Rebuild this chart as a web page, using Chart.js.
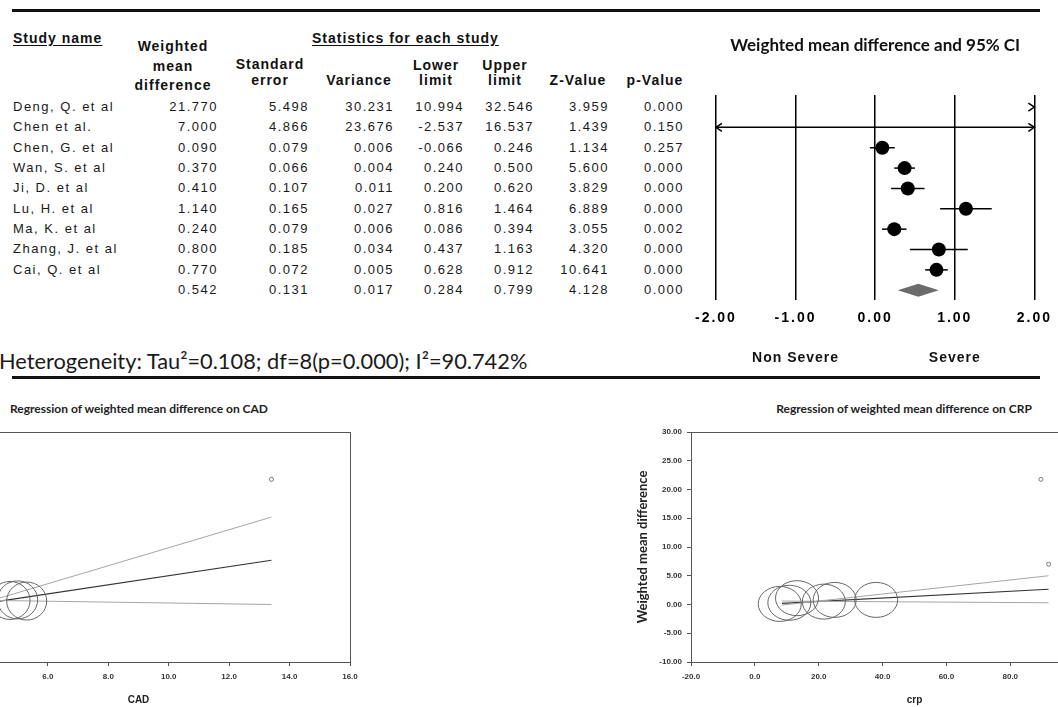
<!DOCTYPE html>
<html>
<head>
<meta charset="utf-8">
<script src="https://cdn.jsdelivr.net/npm/chart.js@4.4.1/dist/chart.umd.min.js"></script>
<style>
  html, body { margin: 0; padding: 0; background: #fff; overflow: hidden; }
  body { width: 1058px; height: 707px; position: relative; font-family: "Liberation Sans", Arial, sans-serif; color: #111; }
  .abs { position: absolute; white-space: nowrap; }
  .cell { font-size: 13px; letter-spacing: 1.5px; line-height: 16px; color: #1a1a1a; }
  .hd { font-size: 14px; font-weight: bold; letter-spacing: 1px; line-height: 16px; }
  .u { text-decoration: underline; text-underline-offset: 2px; }
  .het { font-family: Lato, sans-serif; font-size: 21.8px; color: #1a1a1a; }
  .rtitle { font-family: Lato, sans-serif; font-size: 12px; font-weight: bold; color: #222; }
  .rule { position: absolute; left: 12px; width: 1028px; height: 3px; background: #111; }
  canvas { position: absolute; }
</style>
</head>
<body>
<div class="rule" style="top:9px"></div>
<div class="rule" style="top:376px"></div>
<div id="table"></div>
<canvas id="forest" width="368" height="380" style="left:690px;top:0px"></canvas>
<canvas id="cad" width="503" height="287" style="left:-133px;top:420px"></canvas>
<canvas id="crp" width="527" height="287" style="left:631px;top:420px"></canvas>
<script>
// ---- forest plot table ----
const studies = ['Deng, Q. et al', 'Chen et al.', 'Chen, G. et al', 'Wan, S. et al', 'Ji, D. et al',
  'Lu, H. et al', 'Ma, K. et al', 'Zhang, J. et al', 'Cai, Q. et al'];
// last entry of each column = pooled estimate
const wmd = [21.770, 7.000, 0.090, 0.370, 0.410, 1.140, 0.240, 0.800, 0.770, 0.542];
const stdErr = [5.498, 4.866, 0.079, 0.066, 0.107, 0.165, 0.079, 0.185, 0.072, 0.131];
const variance = [30.231, 23.676, 0.006, 0.004, 0.011, 0.027, 0.006, 0.034, 0.005, 0.017];
const lowerLimit = [10.994, -2.537, -0.066, 0.240, 0.200, 0.816, 0.086, 0.437, 0.628, 0.284];
const upperLimit = [32.546, 16.537, 0.246, 0.500, 0.620, 1.464, 0.394, 1.163, 0.912, 0.799];
const zValue = [3.959, 1.439, 1.134, 5.600, 3.829, 6.889, 3.055, 4.320, 10.641, 4.128];
const pValue = [0.000, 0.150, 0.257, 0.000, 0.000, 0.000, 0.002, 0.000, 0.000, 0.000];
const forestTicks = [-2, -1, 0, 1, 2];

// ---- regression of WMD on CAD ----
const cadBubbleX = [4.75, 5.0, 5.3];
const cadBubbleY = [0.7, 0.8, 0.6];
const cadPointX = [13.4];
const cadPointY = [21.77];
const cadLineX = [4.3, 13.4];
const cadUpper = [0.95, 15.2];
const cadFit = [0.5, 7.7];
const cadLower = [0.7, 0.0];
const cadTicks = [2, 4, 6, 8, 10, 12, 14, 16];

// ---- regression of WMD on CRP ----
const crpBubbleX = [7.8, 10.8, 13.2, 21.6, 25.0, 38.0];
const crpBubbleY = [0.1, 0.3, 1.1, 0.5, 0.8, 0.8];
const crpPointX = [89.6, 92.0];
const crpPointY = [21.77, 7.0];
const crpLineX = [8.5, 92.0];
const crpUpper = [-0.1, 5.0];
const crpFit = [0.2, 2.65];
const crpLower = [0.6, 0.3];
const crpTicks = [-20, 0, 20, 40, 60, 80, 100, 120];
const wmdAxisTicks = [-10, -5, 0, 5, 10, 15, 20, 25, 30];

// ---------- table text ----------
const table = document.getElementById('table');
function put(text, x, y, cls, align) {
  const d = document.createElement('div');
  d.className = 'abs ' + cls;
  d.textContent = text;
  d.style.left = x + 'px';
  d.style.top = y + 'px';
  const tx = align === 'right' ? '-100%' : align === 'center' ? '-50%' : '0';
  d.style.transform = 'translate(' + tx + ', -50%)';
  table.appendChild(d);
}
put('Study name', 13, 38, 'hd u', 'left');
put('Statistics for each study', 312, 38, 'hd u', 'left');
put('Weighted', 173, 46, 'hd', 'center');
put('mean', 173, 66, 'hd', 'center');
put('difference', 173, 85, 'hd', 'center');
put('Standard', 270, 64, 'hd', 'center');
put('error', 270, 80, 'hd', 'center');
put('Variance', 359, 80, 'hd', 'center');
put('Lower', 436, 65, 'hd', 'center');
put('limit', 436, 80, 'hd', 'center');
put('Upper', 505, 65, 'hd', 'center');
put('limit', 505, 80, 'hd', 'center');
put('Z-Value', 578, 80, 'hd', 'center');
put('p-Value', 655, 80, 'hd', 'center');

const columns = [wmd, stdErr, variance, lowerLimit, upperLimit, zValue, pValue];
const colRight = [218, 309, 394, 464, 534, 609, 684];
for (let i = 0; i < wmd.length; i++) {
  const y = 107 + 20.35 * i;
  if (i < studies.length) put(studies[i], 13, y, 'cell', 'left');
  columns.forEach((col, j) => put(col[i].toFixed(3), colRight[j], y, 'cell', 'right'));
}
put('Heterogeneity: Tau²=0.108; df=8(p=0.000); I²=90.742%', -1, 360, 'het', 'left');
put('Regression of weighted mean difference on CAD', 10, 408, 'rtitle', 'left');
put('Regression of weighted mean difference on CRP', 904, 408, 'rtitle', 'center');

// ---------- forest plot ----------
function chevron(ctx, x, y, dir) {
  ctx.beginPath();
  ctx.moveTo(x - dir * 6, y - 4);
  ctx.lineTo(x, y);
  ctx.lineTo(x - dir * 6, y + 4);
  ctx.stroke();
}

const forestMarks = {
  id: 'forestMarks',
  beforeDatasetsDraw(chart) {
    const { ctx, scales: { x, y } } = chart;
    ctx.save();
    ctx.strokeStyle = '#000';
    ctx.lineWidth = 1.5;
    for (let i = 0; i < studies.length; i++) {
      const py = y.getPixelForValue(i);
      const lo = Math.max(lowerLimit[i], x.min);
      const hi = Math.min(upperLimit[i], x.max);
      if (lo < hi) {
        ctx.beginPath();
        ctx.moveTo(x.getPixelForValue(lo), py);
        ctx.lineTo(x.getPixelForValue(hi), py);
        ctx.stroke();
      }
      if (lowerLimit[i] < x.min) chevron(ctx, x.getPixelForValue(x.min), py, -1);
      if (upperLimit[i] > x.max) chevron(ctx, x.getPixelForValue(x.max), py, 1);
    }
    ctx.restore();
  },
  afterDatasetsDraw(chart) {
    const { ctx, scales: { x, y } } = chart;
    const k = wmd.length - 1;
    const py = y.getPixelForValue(k);
    ctx.save();
    ctx.fillStyle = '#6b6b6b';
    ctx.beginPath();
    ctx.moveTo(x.getPixelForValue(lowerLimit[k]), py);
    ctx.lineTo(x.getPixelForValue(wmd[k]), py - 6.5);
    ctx.lineTo(x.getPixelForValue(upperLimit[k]), py);
    ctx.lineTo(x.getPixelForValue(wmd[k]), py + 6.5);
    ctx.closePath();
    ctx.fill();
    ctx.restore();
    // tick labels (z: 1) are drawn after this hook, spaced like the original
    ctx.letterSpacing = '2px';
  },
  afterDraw(chart) {
    const { ctx, scales: { x } } = chart;
    ctx.letterSpacing = '0px';
    ctx.save();
    ctx.font = 'bold 14px "Liberation Sans", Arial';
    ctx.letterSpacing = '1px';
    ctx.fillStyle = '#111';
    ctx.textAlign = 'center';
    ctx.textBaseline = 'middle';
    ctx.fillText('Non Severe', x.getPixelForValue(-1), 358);
    ctx.fillText('Severe', x.getPixelForValue(1), 358);
    ctx.restore();
  }
};

new Chart(document.getElementById('forest'), {
  type: 'scatter',
  data: {
    datasets: [{
      data: studies.map((s, i) => ({ x: wmd[i], y: i })),
      pointRadius: 7,
      pointBackgroundColor: '#000',
      pointBorderColor: '#000',
      pointBorderWidth: 0
    }]
  },
  options: {
    responsive: false,
    animation: false,
    devicePixelRatio: 1,
    layout: { autoPadding: false, padding: { top: 35, left: 25, right: 18, bottom: 50 } },
    plugins: {
      legend: { display: false },
      tooltip: { enabled: false },
      title: {
        display: true,
        text: 'Weighted mean difference and 95% CI',
        fullSize: false,
        color: '#111',
        font: { family: 'Lato', size: 17, weight: 'bold' },
        padding: { top: 0, bottom: 39.6 }
      }
    },
    scales: {
      x: {
        type: 'linear',
        min: forestTicks[0],
        max: forestTicks[forestTicks.length - 1],
        afterBuildTicks: s => { s.ticks = forestTicks.map(v => ({ value: v })); },
        ticks: {
          z: 1,
          padding: 10,
          color: '#000',
          font: { family: 'Liberation Sans', size: 14, weight: 'bold' },
          callback: v => v.toFixed(2)
        },
        grid: { color: '#000', lineWidth: 1.5, drawTicks: false },
        border: { display: false },
        afterFit: s => { s.height = 30; }
      },
      y: { type: 'linear', display: false, reverse: true, min: -0.59, max: 9.48 }
    }
  },
  plugins: [forestMarks]
});

// ---------- regression plots ----------
const frame = {
  id: 'frame',
  beforeDatasetsDraw(chart) {
    const { ctx, chartArea: a } = chart;
    ctx.save();
    ctx.strokeStyle = '#555';
    ctx.lineWidth = 1;
    ctx.strokeRect(Math.round(a.left) + 0.5, Math.round(a.top) + 0.5, Math.round(a.width), Math.round(a.height));
    ctx.restore();
  }
};

// study-weight markers: open ellipses at the bubble dataset's points
// (the original plot is slightly stretched, so circles come out oval)
const weightRings = {
  id: 'weightRings',
  afterDatasetsDraw(chart, args, opts) {
    const { ctx } = chart;
    ctx.save();
    ctx.strokeStyle = '#666';
    ctx.lineWidth = 1;
    chart.getDatasetMeta(3).data.forEach(pt => {
      ctx.beginPath();
      ctx.ellipse(pt.x, pt.y, opts.rx, opts.ry, 0, 0, Math.PI * 2);
      ctx.stroke();
    });
    ctx.restore();
  }
};

function regressionChart(id, o) {
  const pts = (xs, ys) => xs.map((x, i) => ({ x, y: ys[i] }));
  const tickFont = { family: 'Liberation Sans', size: 8, weight: 'bold' };
  return new Chart(document.getElementById(id), {
    type: 'scatter',
    data: {
      datasets: [
        { data: pts(o.lineX, o.lower), showLine: true, borderColor: '#a5a5a5', borderWidth: 1, pointRadius: 0 },
        { data: pts(o.lineX, o.upper), showLine: true, borderColor: '#a5a5a5', borderWidth: 1, pointRadius: 0 },
        { data: pts(o.lineX, o.fit), showLine: true, borderColor: '#333', borderWidth: 1.2, pointRadius: 0 },
        { data: pts(o.bubbleX, o.bubbleY), pointRadius: 0 },
        { data: pts(o.pointX, o.pointY), pointRadius: 2, pointBorderColor: '#777',
          pointBackgroundColor: '#fff', pointBorderWidth: 1 }
      ]
    },
    options: {
      responsive: false,
      animation: false,
      devicePixelRatio: 1,
      layout: { autoPadding: false, padding: { top: 12, left: 0, right: 20, bottom: 0 } },
      plugins: { legend: { display: false }, tooltip: { enabled: false }, weightRings: o.ring },
      scales: {
        x: {
          type: 'linear',
          min: o.xTicks[0],
          max: o.xTicks[o.xTicks.length - 1],
          afterBuildTicks: s => { s.ticks = o.xTicks.map(v => ({ value: v })); },
          ticks: { padding: 6, color: '#333', font: tickFont, maxRotation: 0, autoSkip: false, callback: v => v.toFixed(1) },
          grid: { drawOnChartArea: false, tickLength: 4, color: '#555' },
          border: { display: false },
          title: { display: true, text: o.xTitle, color: '#222',
            font: { family: 'Liberation Sans', size: 10, weight: 'bold' }, padding: { top: 0, bottom: 1 } },
          afterFit: s => { s.height = 45; }
        },
        y: {
          type: 'linear',
          min: wmdAxisTicks[0],
          max: wmdAxisTicks[wmdAxisTicks.length - 1],
          afterBuildTicks: s => { s.ticks = wmdAxisTicks.map(v => ({ value: v })); },
          ticks: { padding: 5, color: '#333', font: tickFont, callback: v => v.toFixed(2) },
          grid: { drawOnChartArea: false, tickLength: 4, color: '#555' },
          border: { display: false },
          title: { display: true, text: 'Weighted mean difference', color: '#222',
            font: { family: 'Lato', size: 13, weight: 'bold' }, padding: { top: 4, bottom: 0 } },
          afterFit: s => { s.width = 60; }
        }
      }
    },
    plugins: [frame, weightRings]
  });
}

regressionChart('cad', {
  xTicks: cadTicks, xTitle: 'CAD', ring: { rx: 20, ry: 19 },
  lineX: cadLineX, upper: cadUpper, fit: cadFit, lower: cadLower,
  bubbleX: cadBubbleX, bubbleY: cadBubbleY, pointX: cadPointX, pointY: cadPointY
});
regressionChart('crp', {
  xTicks: crpTicks, xTitle: 'crp', ring: { rx: 21.5, ry: 17.5 },
  lineX: crpLineX, upper: crpUpper, fit: crpFit, lower: crpLower,
  bubbleX: crpBubbleX, bubbleY: crpBubbleY, pointX: crpPointX, pointY: crpPointY
});
</script>
</body>
</html>
